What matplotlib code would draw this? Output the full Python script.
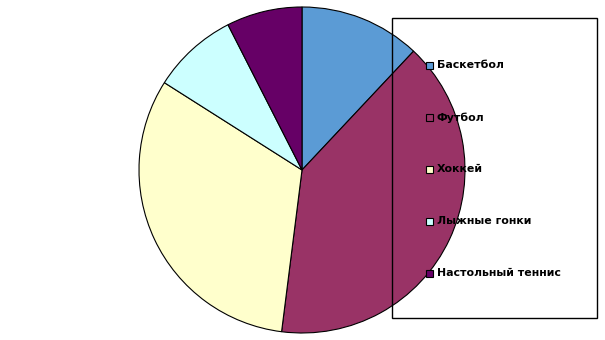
import matplotlib
matplotlib.use("Agg")
import matplotlib.pyplot as plt
from matplotlib.patches import Rectangle

labels = ["Баскетбол", "Футбол", "Хоккей", "Лыжные гонки", "Настольный теннис"]
values = [12, 40, 32, 8.5, 7.5]
colors = ["#5B9BD5", "#993366", "#FFFFCC", "#CCFFFF", "#660066"]

W, H = 605, 340
fig = plt.figure(figsize=(W / 100, H / 100), dpi=100)

# pie area (pixels): center (302,170), radius 163
ax = fig.add_axes([139 / W, 7 / H, 326 / W, 326 / H])
ax.pie(values, colors=colors, startangle=90, counterclock=False,
       wedgeprops=dict(edgecolor="black", linewidth=0.8))
ax.set_xlim(-1, 1)
ax.set_ylim(-1, 1)
ax.set_aspect("equal")
ax.axis("off")

# legend box, drawn over the pie
fig.add_artist(Rectangle((392 / W, 1 - 318 / H), 205 / W, 300 / H,
                         transform=fig.transFigure, fill=False,
                         edgecolor="black", linewidth=1, zorder=5))
for i, (lab, col) in enumerate(zip(labels, colors)):
    y = 65 + 52 * i
    fig.add_artist(Rectangle((426 / W, 1 - (y + 4) / H), 7 / W, 7 / H,
                             transform=fig.transFigure, facecolor=col,
                             edgecolor="black", linewidth=0.8, zorder=6))
    fig.text(437 / W, 1 - (y + 0.5) / H, lab, fontsize=7.9, fontweight="bold",
             va="center", ha="left", zorder=7)

fig.savefig("out.png", dpi=100)
